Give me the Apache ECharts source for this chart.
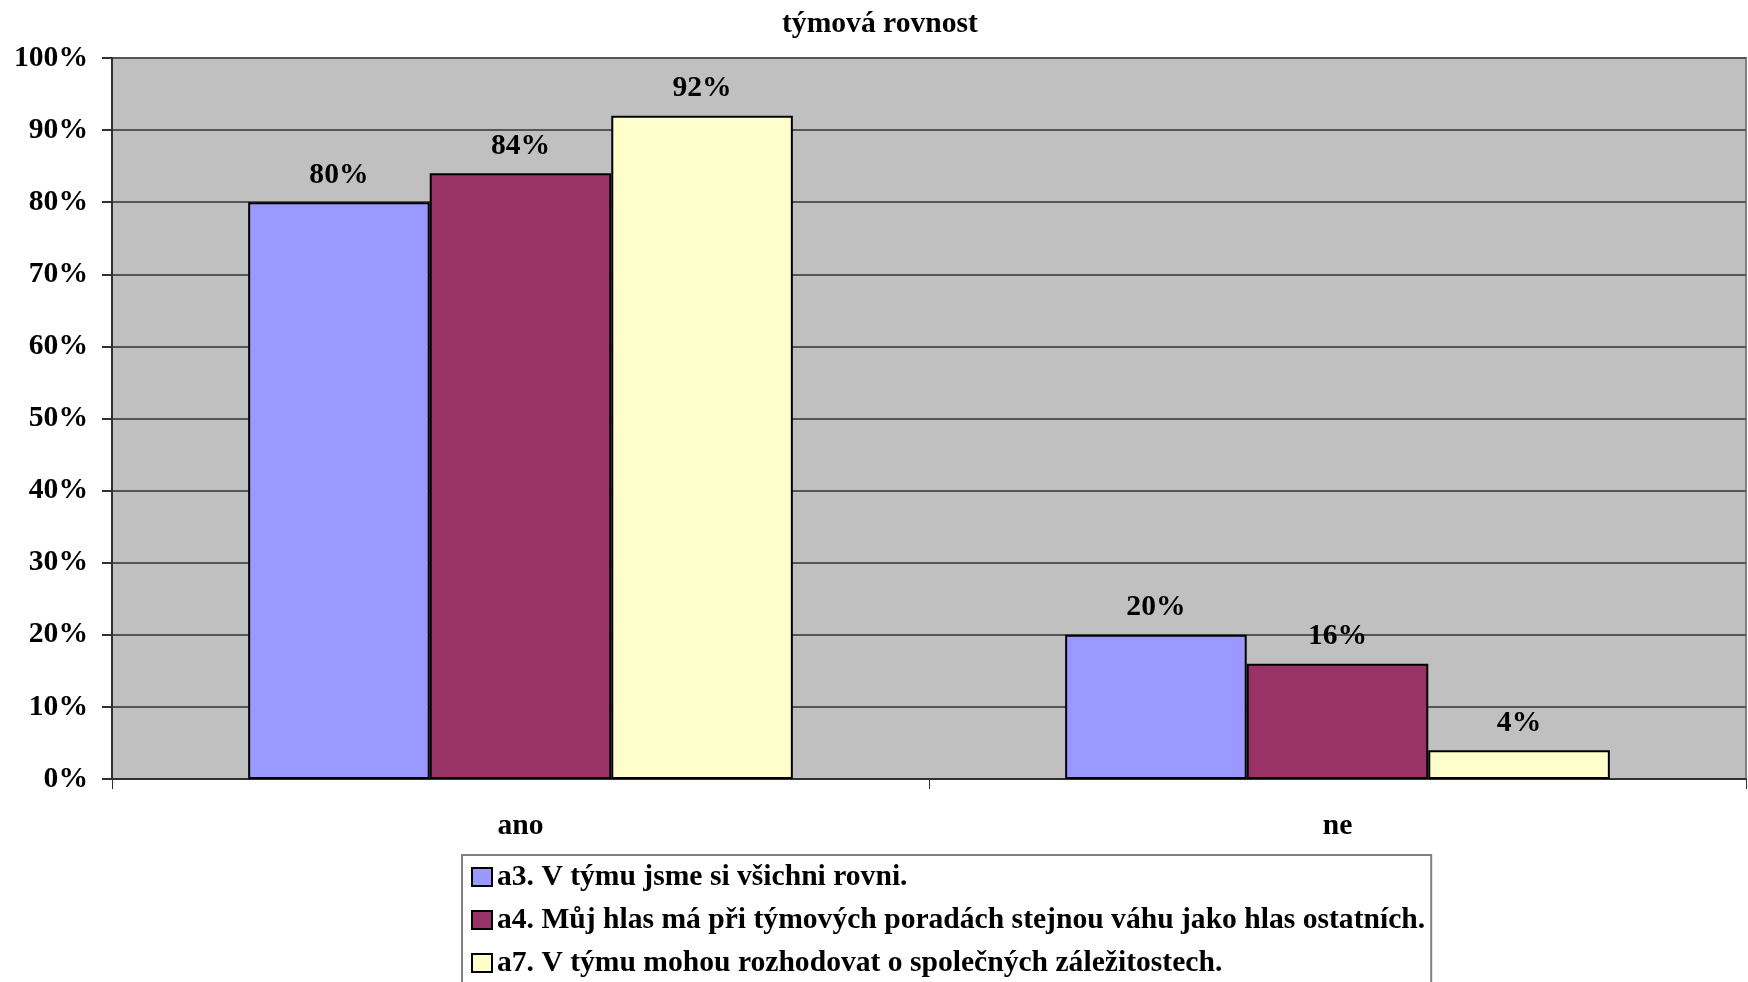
<!DOCTYPE html>
<html>
<head>
<meta charset="utf-8">
<script src="https://cdn.jsdelivr.net/npm/echarts@6/dist/echarts.min.js"></script>
<style>
  html, body { margin: 0; padding: 0; background: #ffffff; }
  #chart { width: 1748px; height: 982px; }
</style>
</head>
<body>
<div id="chart"></div>
<script>
// Answer categories on the x axis
const categories = ['ano', 'ne'];

// Survey statements (legend entries)
const seriesNames = [
  'a3. V týmu jsme si všichni rovni.',
  'a4. Můj hlas má při týmových poradách stejnou váhu jako hlas ostatních.',
  'a7. V týmu mohou rozhodovat o společných záležitostech.'
];

// Share of answers in percent, per statement
const a3Values = [80, 20];
const a4Values = [84, 16];
const a7Values = [92, 4];

const seriesColors = ['#9999FF', '#993366', '#FFFFCC'];
const valuesBySeries = [a3Values, a4Values, a7Values];

const FONT = '"Liberation Serif", "Times New Roman", serif';
const FS = 29.6;

const chart = echarts.init(document.getElementById('chart'), null, { renderer: 'canvas' });

const series = seriesNames.map((name, i) => ({
  name: name,
  type: 'bar',
  data: valuesBySeries[i],
  barGap: '0%',
  barCategoryGap: '33.33%',
  itemStyle: {
    color: seriesColors[i],
    borderColor: '#000000',
    borderWidth: 2
  },
  label: {
    show: true,
    position: 'top',
    distance: 12,
    formatter: '{c}%',
    fontFamily: FONT,
    fontWeight: 'bold',
    fontSize: FS,
    color: '#000000'
  },
  emphasis: { disabled: true }
}));

chart.setOption({
  animation: false,
  backgroundColor: '#ffffff',
  title: {
    text: 'týmová rovnost',
    left: 777,
    top: 4,
    textStyle: { fontFamily: FONT, fontWeight: 'bold', fontSize: FS, color: '#000000' }
  },
  grid: {
    left: 112,
    right: 2,
    top: 58,
    bottom: 203,
    show: true,
    backgroundColor: '#C0C0C0',
    borderColor: '#808080',
    borderWidth: 2
  },
  legend: {
    orient: 'vertical',
    left: 462,
    top: 855,
    height: 160,
    padding: [6, 6, 6, 9],
    itemGap: 11,
    itemWidth: 20,
    itemHeight: 18,
    icon: 'rect',
    backgroundColor: '#ffffff',
    borderColor: '#808080',
    borderWidth: 2,
    itemStyle: { borderColor: '#000000', borderWidth: 2 },
    textStyle: {
      fontFamily: FONT, fontWeight: 'bold', fontSize: FS, color: '#000000',
      lineHeight: 32
    },
    data: seriesNames
  },
  xAxis: {
    type: 'category',
    data: categories,
    axisLine: { show: true, lineStyle: { color: '#303030', width: 2 } },
    axisTick: { show: true, alignWithLabel: false, length: 10, lineStyle: { color: '#303030', width: 1 } },
    axisLabel: { margin: 32, fontFamily: FONT, fontWeight: 'bold', fontSize: FS, color: '#000000' },
    splitLine: { show: false }
  },
  yAxis: {
    type: 'value',
    min: 0,
    max: 100,
    interval: 10,
    axisLine: { show: true, lineStyle: { color: '#303030', width: 2 } },
    axisTick: { show: true, length: 10, lineStyle: { color: '#303030', width: 2 } },
    axisLabel: { formatter: '{value}%', margin: 24, fontFamily: FONT, fontWeight: 'bold', fontSize: FS, color: '#000000' },
    splitLine: { show: true, lineStyle: { color: '#555555', width: 2 } }
  },
  series: series
});
</script>
</body>
</html>
